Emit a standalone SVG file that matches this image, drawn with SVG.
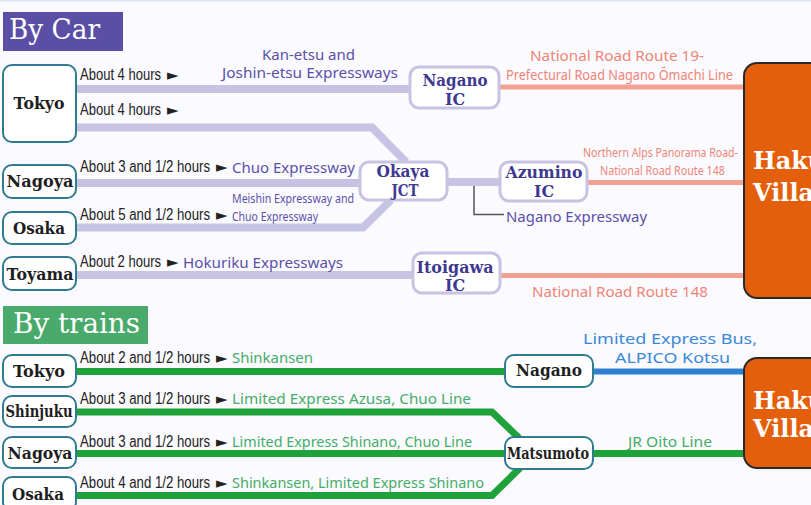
<svg xmlns="http://www.w3.org/2000/svg" width="811" height="505" viewBox="0 0 811 505">
<style>
.bg{fill:#fafaff}
.hdr{font-family:"DejaVu Serif","Liberation Serif",serif;font-size:27px;fill:#fff}
.tnode{fill:#fff;stroke:#2f7b90;stroke-width:2}
.pnode{fill:#fff;stroke:#c6c4e2;stroke-width:3}
.hak{fill:#e35f0b;stroke:#2a2a2a;stroke-width:2}
.nt{font-family:"DejaVu Serif","Liberation Serif",serif;font-weight:bold;font-size:17px;fill:#1e1e1e;text-anchor:middle}
.pt{font-family:"DejaVu Serif","Liberation Serif",serif;font-weight:bold;font-size:16px;fill:#3e3891;text-anchor:middle}
.ht{font-family:"DejaVu Serif","Liberation Serif",serif;font-weight:bold;font-size:24px;fill:#fff}
.ab{font-family:"Liberation Sans Narrow","Liberation Sans",sans-serif;font-size:16px;fill:#222}
.tri{font-family:"DejaVu Sans",sans-serif;font-size:15px;fill:#222}
.pl{font-family:"Noto Sans","Open Sans",sans-serif;font-size:15px;fill:#5b50a8}
.sl{font-family:"Noto Sans","Open Sans",sans-serif;font-size:15px;fill:#ef8575}
.gl{font-family:"Noto Sans","Open Sans",sans-serif;font-size:15px;fill:#45ad67}
.bl{font-family:"Noto Sans","Open Sans",sans-serif;font-size:15px;fill:#3a88d6}
.sm{font-size:13px}
.car{fill:none;stroke:#c6c4e2;stroke-width:8;stroke-linejoin:miter}
.road{fill:none;stroke:#f4a092;stroke-width:5}
.rail{fill:none;stroke:#1fa23a;stroke-width:7;stroke-linejoin:miter}
.bus{fill:none;stroke:#2f80d0;stroke-width:6}
</style>
<rect class="bg" x="0" y="0" width="811" height="505"/>
<line x1="0" y1="0.5" x2="811" y2="0.5" stroke="#dbe6f3" stroke-width="1.5"/>

<g id="connectors">
  <path class="car" d="M76 89 H410"/>
  <path class="car" d="M76 127.5 H372 L406 162"/>
  <path class="car" d="M76 183 H360"/>
  <path class="car" d="M76 227.5 H363 L391 200"/>
  <path class="car" d="M76 275 H413"/>
  <path class="car" d="M447 182 H500"/>
  <path d="M474 186 V214.5 H504" fill="none" stroke="#555" stroke-width="1.5"/>
  <path class="road" d="M499 87 H744"/>
  <path class="road" d="M587 182.5 H744"/>
  <path class="road" d="M500 275.5 H744"/>
  <path class="rail" d="M76 371.5 H505"/>
  <path class="rail" d="M76 412 H492 L519 438"/>
  <path class="rail" d="M76 453.5 H505"/>
  <path class="rail" d="M76 495.5 H492 L521 467"/>
  <path class="bus" d="M593 371.5 H744"/>
  <path class="rail" d="M592 453.5 H744"/>
</g>

<g id="header-car">
  <rect x="3" y="12" width="120" height="39" fill="#5a4ea6"/>
  <text class="hdr" x="9" y="39" textLength="91" lengthAdjust="spacingAndGlyphs">By Car</text>
</g>
<g id="header-trains">
  <rect x="3" y="306" width="145" height="38" fill="#4aaa6b"/>
  <text class="hdr" x="13" y="333" textLength="127" lengthAdjust="spacingAndGlyphs">By trains</text>
</g>

<g id="car-tokyo"><rect class="tnode" x="3" y="65" width="73" height="77" rx="9"/><text class="nt" x="39" y="109" textLength="51" lengthAdjust="spacingAndGlyphs">Tokyo</text></g>
<g id="car-nagoya"><rect class="tnode" x="3" y="165" width="73" height="33" rx="9"/><text class="nt" x="40" y="187" textLength="67" lengthAdjust="spacingAndGlyphs">Nagoya</text></g>
<g id="car-osaka"><rect class="tnode" x="3" y="212" width="73" height="32" rx="9"/><text class="nt" x="39" y="234" textLength="52" lengthAdjust="spacingAndGlyphs">Osaka</text></g>
<g id="car-toyama"><rect class="tnode" x="3" y="257" width="73" height="33" rx="9"/><text class="nt" x="40" y="280" textLength="67" lengthAdjust="spacingAndGlyphs">Toyama</text></g>

<g id="nagano-ic"><rect class="pnode" x="410" y="67" width="89" height="41" rx="9"/><text class="pt" x="455" y="86" textLength="65" lengthAdjust="spacingAndGlyphs">Nagano</text><text class="pt" x="455" y="105">IC</text></g>
<g id="okaya-jct"><rect class="pnode" x="360" y="162" width="87" height="38" rx="9"/><text class="pt" x="403" y="177" textLength="53" lengthAdjust="spacingAndGlyphs">Okaya</text><text class="pt" x="405" y="196" textLength="27" lengthAdjust="spacingAndGlyphs">JCT</text></g>
<g id="azumino-ic"><rect class="pnode" x="500" y="162" width="87" height="39" rx="9"/><text class="pt" x="544" y="178" textLength="77" lengthAdjust="spacingAndGlyphs">Azumino</text><text class="pt" x="544" y="197">IC</text></g>
<g id="itoigawa-ic"><rect class="pnode" x="413" y="253" width="87" height="40" rx="9"/><text class="pt" x="455" y="273" textLength="77" lengthAdjust="spacingAndGlyphs">Itoigawa</text><text class="pt" x="455" y="291">IC</text></g>

<g id="hakuba-car"><rect class="hak" x="744" y="63" width="90" height="235" rx="13"/><text class="ht" x="753" y="169">Hakuba</text><text class="ht" x="753" y="201">Village</text></g>
<g id="hakuba-train"><rect class="hak" x="744" y="358" width="90" height="110" rx="13"/><text class="ht" x="753" y="409">Hakuba</text><text class="ht" x="753" y="437">Village</text></g>

<g id="train-tokyo"><rect class="tnode" x="3" y="355" width="73" height="32" rx="9"/><text class="nt" x="39" y="377" textLength="52" lengthAdjust="spacingAndGlyphs">Tokyo</text></g>
<g id="train-shinjuku"><rect class="tnode" x="3" y="396" width="73" height="31" rx="9"/><text class="nt" x="39" y="417" textLength="67" lengthAdjust="spacingAndGlyphs">Shinjuku</text></g>
<g id="train-nagoya"><rect class="tnode" x="3" y="437" width="73" height="31" rx="9"/><text class="nt" x="40" y="459" textLength="65" lengthAdjust="spacingAndGlyphs">Nagoya</text></g>
<g id="train-osaka"><rect class="tnode" x="3" y="477" width="73" height="34" rx="9"/><text class="nt" x="38" y="500" textLength="52" lengthAdjust="spacingAndGlyphs">Osaka</text></g>
<g id="train-nagano"><rect class="tnode" x="505" y="355" width="88" height="32" rx="9"/><text class="nt" x="549" y="376" textLength="66" lengthAdjust="spacingAndGlyphs">Nagano</text></g>
<g id="train-matsumoto"><rect class="tnode" x="505" y="437" width="88" height="32" rx="9"/><text class="nt" x="548" y="459" textLength="82" lengthAdjust="spacingAndGlyphs">Matsumoto</text></g>

<g id="labels-car">
  <text class="ab" x="80" y="80"><tspan textLength="81" lengthAdjust="spacingAndGlyphs">About 4 hours</tspan><tspan class="tri" x="167">►</tspan></text>
  <text class="ab" x="80" y="115"><tspan textLength="81" lengthAdjust="spacingAndGlyphs">About 4 hours</tspan><tspan class="tri" x="167">►</tspan></text>
  <text class="ab" x="80" y="172"><tspan textLength="130" lengthAdjust="spacingAndGlyphs">About 3 and 1/2 hours</tspan><tspan class="tri" x="216">►</tspan></text>
  <text class="ab" x="80" y="220"><tspan textLength="130" lengthAdjust="spacingAndGlyphs">About 5 and 1/2 hours</tspan><tspan class="tri" x="216">►</tspan></text>
  <text class="ab" x="80" y="267"><tspan textLength="81" lengthAdjust="spacingAndGlyphs">About 2 hours</tspan><tspan class="tri" x="167">►</tspan></text>
  <text class="pl" x="262" y="60" textLength="93" lengthAdjust="spacingAndGlyphs">Kan-etsu and</text>
  <text class="pl" x="222" y="78" textLength="176" lengthAdjust="spacingAndGlyphs">Joshin-etsu Expressways</text>
  <text class="pl" x="232" y="173" textLength="123" lengthAdjust="spacingAndGlyphs">Chuo Expressway</text>
  <text class="pl sm" x="232" y="203" textLength="122" lengthAdjust="spacingAndGlyphs">Meishin Expressway and</text>
  <text class="pl sm" x="232" y="221" textLength="86" lengthAdjust="spacingAndGlyphs">Chuo Expressway</text>
  <text class="pl" x="183" y="268" textLength="160" lengthAdjust="spacingAndGlyphs">Hokuriku Expressways</text>
  <text class="pl" x="506" y="222" textLength="141" lengthAdjust="spacingAndGlyphs">Nagano Expressway</text>
  <text class="sl" x="530" y="61" textLength="174" lengthAdjust="spacingAndGlyphs">National Road Route 19-</text>
  <text class="sl" x="506" y="80" textLength="227" lengthAdjust="spacingAndGlyphs">Prefectural Road Nagano Ōmachi Line</text>
  <text class="sl sm" x="583" y="157" textLength="155" lengthAdjust="spacingAndGlyphs">Northern Alps Panorama Road-</text>
  <text class="sl sm" x="600" y="175" textLength="125" lengthAdjust="spacingAndGlyphs">National Road Route 148</text>
  <text class="sl" x="532" y="297" textLength="176" lengthAdjust="spacingAndGlyphs">National Road Route 148</text>
</g>

<g id="labels-train">
  <text class="ab" x="80" y="363"><tspan textLength="130" lengthAdjust="spacingAndGlyphs">About 2 and 1/2 hours</tspan><tspan class="tri" x="216">►</tspan></text>
  <text class="ab" x="80" y="404"><tspan textLength="130" lengthAdjust="spacingAndGlyphs">About 3 and 1/2 hours</tspan><tspan class="tri" x="216">►</tspan></text>
  <text class="ab" x="80" y="447"><tspan textLength="130" lengthAdjust="spacingAndGlyphs">About 3 and 1/2 hours</tspan><tspan class="tri" x="216">►</tspan></text>
  <text class="ab" x="80" y="488"><tspan textLength="130" lengthAdjust="spacingAndGlyphs">About 4 and 1/2 hours</tspan><tspan class="tri" x="216">►</tspan></text>
  <text class="gl" x="232" y="363" textLength="81" lengthAdjust="spacingAndGlyphs">Shinkansen</text>
  <text class="gl" x="232" y="404" textLength="239" lengthAdjust="spacingAndGlyphs">Limited Express Azusa, Chuo Line</text>
  <text class="gl" x="232" y="447" textLength="240" lengthAdjust="spacingAndGlyphs">Limited Express Shinano, Chuo Line</text>
  <text class="gl" x="232" y="488" textLength="252" lengthAdjust="spacingAndGlyphs">Shinkansen, Limited Express Shinano</text>
  <text class="bl" x="583" y="344" textLength="174" lengthAdjust="spacingAndGlyphs">Limited Express Bus,</text>
  <text class="bl" x="615" y="363" textLength="115" lengthAdjust="spacingAndGlyphs">ALPICO Kotsu</text>
  <text class="gl" x="628" y="447" textLength="84" lengthAdjust="spacingAndGlyphs">JR Oito Line</text>
</g>
</svg>
